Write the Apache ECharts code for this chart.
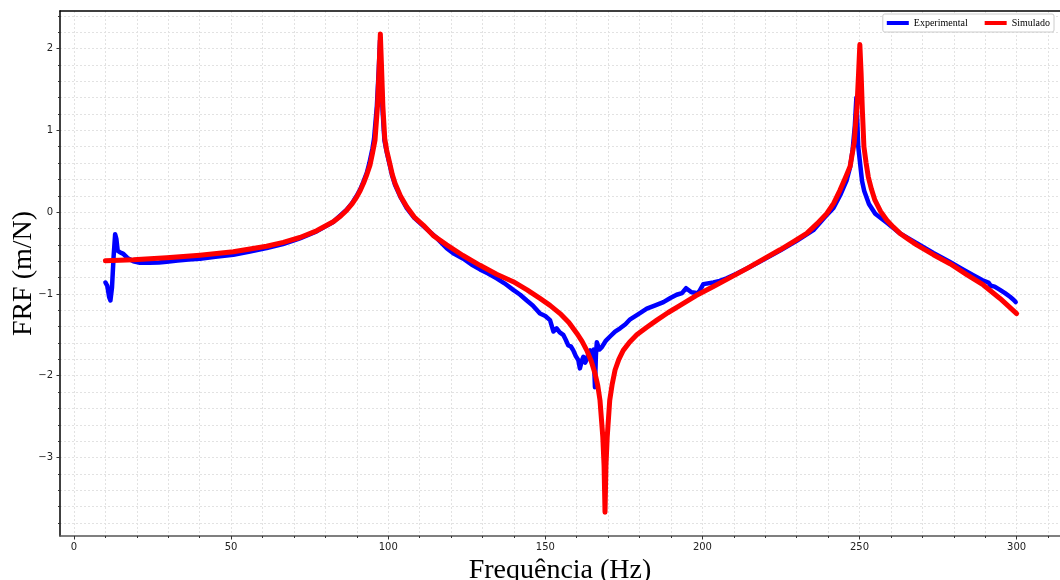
<!DOCTYPE html>
<html>
<head>
<meta charset="utf-8">
<script src="https://cdn.jsdelivr.net/npm/echarts@6/dist/echarts.min.js"></script>
<style>
  html, body { margin: 0; padding: 0; background: #fff; }
  #chart { width: 1060px; height: 580px; }
</style>
</head>
<body>
<div id="chart"></div>
<script>
// ticks
const xMajor = [0, 50, 100, 150, 200, 250, 300]
const xMinor = [0, 10, 20, 30, 40, 50, 60, 70, 80, 90, 100, 110, 120, 130, 140, 150, 160, 170, 180, 190, 200, 210, 220, 230, 240, 250, 260, 270, 280, 290, 300, 310]
const yMajor = [-3, -2, -1, 0, 1, 2]
const yMinor = [-3.8, -3.6, -3.4, -3.2, -3, -2.8, -2.6, -2.4, -2.2, -2, -1.8, -1.6, -1.4, -1.2, -1, -0.8, -0.6, -0.4, -0.2, 0, 0.2, 0.4, 0.6, 0.8, 1, 1.2, 1.4, 1.6, 1.8, 2, 2.2, 2.4]

// Experimental (blue)
const expFreq = [10.0, 10.6, 11.2, 11.6, 12.1, 12.6, 13.1, 13.5, 13.9, 14.6, 15.7, 17.0, 18.9, 21.0, 24.0, 27.0, 29.5, 33.0, 36.5, 40.1, 45.0, 50.7, 56.0, 61.3, 66.5, 71.9, 77.2, 82.5, 86.8, 88.5, 90.0, 91.1, 92.1, 93.2, 94.0, 95.0, 95.5, 96.4, 97.0, 97.4, 97.8, 98.2, 98.8, 99.5, 100.6, 101.3, 102.2, 104.0, 105.9, 108.3, 111.2, 115.0, 118.6, 121.0, 123.9, 126.5, 129.2, 131.8, 134.5, 137.0, 139.8, 142.0, 144.1, 146.0, 148.3, 150.0, 151.5, 152.6, 153.6, 154.6, 155.7, 156.5, 157.3, 158.1, 158.9, 159.7, 160.5, 161.0, 161.6, 162.1, 162.7, 163.2, 163.8, 164.3, 164.9, 165.4, 165.8, 166.1, 166.4, 167.2, 168.0, 169.3, 170.6, 172.2, 173.8, 175.5, 177.0, 179.5, 182.3, 185.0, 187.6, 189.8, 191.8, 193.5, 194.8, 196.5, 198.7, 200.3, 203.5, 205.5, 207.7, 211.0, 215.1, 219.5, 224.7, 230.0, 235.3, 239.0, 241.7, 244.0, 245.9, 247.0, 247.8, 248.5, 249.0, 249.6, 250.8, 251.5, 253.0, 255.0, 258.7, 262.9, 268.2, 273.5, 278.8, 282.5, 286.2, 289.0, 291.0, 291.8, 293.0, 294.7, 296.3, 297.9, 299.0, 299.7]
const expFRF = [-0.86, -0.90, -1.04, -1.08, -0.92, -0.55, -0.27, -0.33, -0.47, -0.49, -0.51, -0.56, -0.60, -0.62, -0.62, -0.615, -0.605, -0.59, -0.58, -0.57, -0.545, -0.52, -0.48, -0.44, -0.39, -0.32, -0.235, -0.12, 0.03, 0.11, 0.2, 0.28, 0.37, 0.48, 0.6, 0.78, 0.9, 1.3, 1.75, 2.1, 1.7, 1.25, 0.88, 0.74, 0.56, 0.44, 0.33, 0.18, 0.05, -0.07, -0.17, -0.3, -0.44, -0.51, -0.57, -0.64, -0.70, -0.75, -0.81, -0.87, -0.95, -1.01, -1.08, -1.14, -1.24, -1.27, -1.32, -1.46, -1.42, -1.47, -1.50, -1.56, -1.63, -1.64, -1.69, -1.76, -1.81, -1.91, -1.82, -1.77, -1.84, -1.80, -1.72, -1.69, -1.75, -1.68, -2.14, -1.75, -1.59, -1.68, -1.65, -1.57, -1.52, -1.46, -1.42, -1.37, -1.31, -1.25, -1.18, -1.14, -1.10, -1.05, -1.01, -0.99, -0.93, -0.98, -0.99, -0.88, -0.86, -0.84, -0.81, -0.75, -0.67, -0.58, -0.47, -0.35, -0.22, -0.06, 0.05, 0.22, 0.39, 0.55, 0.76, 1.05, 1.4, 0.8, 0.38, 0.26, 0.1, -0.02, -0.13, -0.26, -0.38, -0.5, -0.61, -0.69, -0.77, -0.83, -0.86, -0.9, -0.91, -0.95, -0.99, -1.035, -1.07, -1.10]

// Simulado (red)
const simFreq = [10.0, 18.9, 29.5, 40.1, 50.7, 61.3, 66.6, 71.9, 77.2, 82.5, 84.8, 86.8, 88.5, 90.0, 91.1, 92.1, 93.2, 94.2, 95.0, 95.8, 96.6, 97.1, 97.5, 97.9, 98.3, 98.9, 99.5, 100.6, 101.3, 102.2, 104.0, 105.9, 108.3, 111.2, 114.5, 118.6, 123.8, 129.2, 134.5, 139.8, 144.2, 148.3, 151.5, 154.7, 157.5, 160.0, 161.7, 163.2, 164.6, 165.8, 166.7, 167.4, 168.3, 168.7, 169.0, 169.3, 169.7, 170.5, 171.3, 172.2, 173.4, 174.8, 176.8, 179.1, 182.2, 185.5, 189.0, 192.9, 198.0, 203.5, 208.8, 214.1, 219.4, 224.7, 229.0, 233.2, 236.5, 239.6, 241.8, 243.8, 245.5, 247.0, 248.3, 249.2, 249.7, 250.1, 250.5, 250.9, 251.4, 252.1, 252.8, 253.8, 254.9, 256.7, 258.7, 260.7, 262.9, 265.5, 268.2, 273.5, 278.8, 284.0, 289.4, 294.7, 300.0]
const simFRF = [-0.595, -0.583, -0.558, -0.526, -0.485, -0.416, -0.37, -0.31, -0.228, -0.118, -0.05, 0.024, 0.1, 0.187, 0.265, 0.35, 0.46, 0.575, 0.72, 0.88, 1.3, 1.75, 2.18, 1.75, 1.3, 0.9, 0.76, 0.58, 0.46, 0.35, 0.19, 0.065, -0.06, -0.16, -0.29, -0.40, -0.53, -0.65, -0.76, -0.85, -0.95, -1.055, -1.14, -1.24, -1.35, -1.48, -1.58, -1.69, -1.82, -1.97, -2.12, -2.3, -2.75, -3.1, -3.67, -3.1, -2.75, -2.3, -2.1, -1.93, -1.8, -1.69, -1.59, -1.50, -1.41, -1.32, -1.23, -1.14, -1.02, -0.91, -0.8, -0.69, -0.575, -0.46, -0.36, -0.26, -0.14, -0.016, 0.11, 0.27, 0.42, 0.56, 0.85, 1.3, 1.7, 2.05, 1.7, 1.25, 0.8, 0.6, 0.43, 0.28, 0.147, 0.01, -0.098, -0.18, -0.26, -0.33, -0.40, -0.52, -0.63, -0.76, -0.89, -1.055, -1.24]

const pairs = (xs, ys) => xs.map((x, i) => [x, ys[i]])

const chart = echarts.init(document.getElementById('chart'))

const gridLine = { show: true, lineStyle: { color: '#e2e2e2', width: 1, type: [2, 2] } }
const tickFont = { fontFamily: 'DejaVu Sans', fontSize: 10, color: '#222' }
const minusFmt = (v) => String(v).replace('-', '\u2212')
const X_MIN = -4.45, X_MAX = 313.8
const Y_MIN = -3.96, Y_MAX = 2.46

const option = {
    animation: false,
    backgroundColor: '#fff',
    grid: { left: 60, right: 0, top: 11, bottom: 44, outerBoundsMode: 'none', containLabel: false },
    legend: {
        right: 6,
        top: 14,
        icon: 'rect',
        itemWidth: 22,
        itemHeight: 4,
        itemGap: 17,
        padding: [4, 4],
        borderColor: '#ccc',
        borderWidth: 1,
        borderRadius: 2,
        backgroundColor: '#fff',
        textStyle: { fontFamily: 'Liberation Serif', fontSize: 10, color: '#000' },
        data: ['Experimental', 'Simulado']
    },
    xAxis: [
        {
            type: 'value', min: X_MIN, max: X_MAX, position: 'bottom',
            name: 'Frequência (Hz)', nameLocation: 'middle', nameGap: 14,
            nameTextStyle: { fontFamily: 'Liberation Serif', fontSize: 28, color: '#000' },
            axisLine: { show: true, onZero: false, lineStyle: { color: '#555', width: 1.5 } },
            axisTick: { show: true, customValues: xMinor, length: 2, lineStyle: { color: '#333' } },
            axisLabel: { customValues: xMajor, margin: 6, ...tickFont },
            splitLine: gridLine
        },
        {
            type: 'value', min: X_MIN, max: X_MAX, position: 'bottom',
            axisLine: { show: false, onZero: false },
            axisTick: { show: true, customValues: xMajor, length: 3.5, lineStyle: { color: '#333' } },
            axisLabel: { show: false },
            splitLine: { show: false }
        },
        {
            type: 'value', min: X_MIN, max: X_MAX, position: 'top',
            axisLine: { show: true, onZero: false, lineStyle: { color: '#000', width: 1.5 } },
            axisTick: { show: false },
            axisLabel: { show: false },
            splitLine: { show: false }
        }
    ],
    yAxis: [
        {
            type: 'value', min: Y_MIN, max: Y_MAX, position: 'left',
            name: 'FRF (m/N)', nameLocation: 'middle', nameGap: 22, nameMoveOverlap: false,
            nameTextStyle: { fontFamily: 'Liberation Serif', fontSize: 28, color: '#000' },
            axisLine: { show: true, onZero: false, lineStyle: { color: '#000', width: 1.5 } },
            axisTick: { show: true, customValues: yMinor, length: 2, lineStyle: { color: '#333' } },
            axisLabel: { customValues: yMajor, margin: 7, formatter: minusFmt, ...tickFont },
            splitLine: gridLine
        },
        {
            type: 'value', min: Y_MIN, max: Y_MAX, position: 'left',
            axisLine: { show: false, onZero: false },
            axisTick: { show: true, customValues: yMajor, length: 3.5, lineStyle: { color: '#333' } },
            axisLabel: { show: false },
            splitLine: { show: false }
        }
    ],
    series: [
        {
            name: 'Experimental',
            type: 'line',
            data: pairs(expFreq, expFRF),
            showSymbol: false,
            symbol: 'none',
            color: '#0000ff',
            lineStyle: { width: 4.5, color: '#0000ff', cap: 'round', join: 'round' },
            z: 2
        },
        {
            name: 'Simulado',
            type: 'line',
            data: pairs(simFreq, simFRF),
            showSymbol: false,
            symbol: 'none',
            color: '#ff0000',
            lineStyle: { width: 5, color: '#ff0000', cap: 'round', join: 'round' },
            z: 3
        }
    ]
}

option && chart.setOption(option)
</script>
</body>
</html>
